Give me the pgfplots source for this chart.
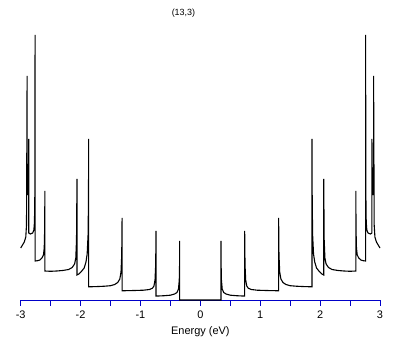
\documentclass[border=0pt]{standalone}
\usepackage{fontspec}
\setmainfont{Liberation Sans}
\usepackage{pgfplots}
\pgfplotsset{compat=1.18}
\definecolor{axblue}{RGB}{0,0,200}
\begin{document}
\begin{tikzpicture}
\path[use as bounding box] (0,0) rectangle (409bp,345bp);
\begin{axis}[
  at={(20.7bp,45bp)}, anchor=south west,
  scale only axis, width=359.3bp, height=280bp,
  xmin=-3, xmax=3, ymin=0, ymax=280,
  axis y line=none, axis x line=bottom,
  x axis line style={axblue, -, line width=0.9bp},
  xtick={-3,-2,-1,0,1,2,3},
  minor xtick={-2.5,-1.5,-0.5,0.5,1.5,2.5},
  tick style={axblue, line width=0.9bp},
  tick align=outside,
  major tick length=5.5bp, minor tick length=5.5bp,
  /pgf/number format/assume math mode=true,
  xticklabel style={font=\fontsize{11}{13}\selectfont, black, yshift=-2bp},
  xlabel={Energy (eV)},
  xlabel style={font=\fontsize{11}{13}\selectfont, black, yshift=-1bp},
  clip=false,
]
\addplot[black, line width=1.1bp] coordinates {
(-3.000,52) (-2.970,55) (-2.940,58) (-2.915,63) (-2.903,75) (-2.893,224)
(-2.893,130) (-2.885,105) (-2.875,110) (-2.868,140) (-2.865,161) (-2.865,67)
(-2.840,66) (-2.800,67) (-2.780,70) (-2.770,78) (-2.763,110) (-2.760,265) (-2.760,39)
(-2.720,39.3) (-2.680,40) (-2.645,42) (-2.620,45) (-2.607,52) (-2.600,70) (-2.596,109) (-2.596,29)
(-2.500,28.7) (-2.400,29) (-2.300,29.5) (-2.200,30.5) (-2.140,32.5) (-2.100,36) (-2.080,42) (-2.068,60) (-2.060,121) (-2.060,25)
(-2.030,26) (-1.980,29) (-1.940,32) (-1.910,38) (-1.890,46) (-1.875,65) (-1.868,100) (-1.865,161) (-1.865,13.3)
(-1.800,13.3) (-1.700,13.5) (-1.600,13.8) (-1.500,14.3) (-1.430,15.5) (-1.380,17.5) (-1.345,21) (-1.325,28) (-1.313,45) (-1.307,82) (-1.307,9.3)
(-1.250,9.3) (-1.100,9.5) (-0.950,9.8) (-0.850,10.5) (-0.800,11.8) (-0.775,14) (-0.757,20) (-0.746,35) (-0.740,69) (-0.740,4)
(-0.700,4) (-0.600,4.3) (-0.500,4.8) (-0.430,6) (-0.390,7.5) (-0.365,11) (-0.352,20) (-0.347,35) (-0.345,59) (-0.345,0)
(0.345,0) (0.345,59) (0.347,35) (0.352,20) (0.365,11) (0.390,7.5) (0.430,6) (0.500,4.8) (0.600,4.3) (0.700,4)
(0.740,4) (0.740,69) (0.746,35) (0.757,20) (0.775,14) (0.800,11.8) (0.850,10.5) (0.950,9.8) (1.100,9.5) (1.250,9.3)
(1.307,9.3) (1.307,82) (1.313,45) (1.325,28) (1.345,21) (1.380,17.5) (1.430,15.5) (1.500,14.3) (1.600,13.8) (1.700,13.5) (1.800,13.3)
(1.865,13.3) (1.865,161) (1.868,100) (1.875,65) (1.890,46) (1.910,38) (1.940,32) (1.980,29) (2.030,26)
(2.060,25) (2.060,121) (2.068,60) (2.080,42) (2.100,36) (2.140,32.5) (2.200,30.5) (2.300,29.5) (2.400,29) (2.500,28.7)
(2.596,29) (2.596,109) (2.600,70) (2.607,52) (2.620,45) (2.645,42) (2.680,40) (2.720,39.3)
(2.760,39) (2.760,265) (2.763,110) (2.770,78) (2.780,70) (2.800,67) (2.840,66)
(2.865,67) (2.865,161) (2.868,140) (2.875,110) (2.885,105) (2.893,130) (2.893,224)
(2.903,75) (2.915,63) (2.940,58) (2.970,55) (3.000,52)
};
\node[font=\fontsize{9}{11}\selectfont, anchor=center] at (rel axis cs:0.453,1) [yshift=6.7bp] {(13,3)};
\end{axis}
\end{tikzpicture}
\end{document}
